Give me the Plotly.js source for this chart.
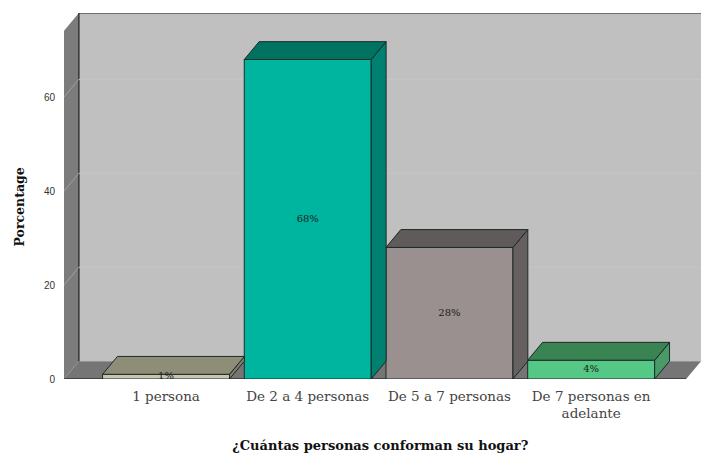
<!DOCTYPE html>
<html>
<head>
<meta charset="utf-8">
<script src="https://cdn.plot.ly/plotly-3.0.1.min.js"></script>
<style>html,body{margin:0;padding:0;background:#fff}</style>
</head>
<body>
<div id="chart" style="width:701px;height:455px"></div>
<script>
// Household size survey: share of respondents per household size.
const categories = ['1 persona', 'De 2 a 4 personas', 'De 5 a 7 personas', 'De 7 personas en<br>adelante'];
const percentages = [1, 68, 28, 4];
const frontColors = ['#C6C6AE', '#00B5A0', '#9A9090', '#55C885'];
const topColors = ['#8E8E78', '#007260', '#605A5A', '#3A8352'];
const sideColors = ['#7F7F6C', '#008070', '#666060', '#4A9A68'];
const yTicks = [0, 20, 40, 60];

// Extruded look: depth of the box, in axis units.
const depthX = 0.105;
const depthY = 3.8;
const halfBar = 0.448;
const xRange = [-0.72, 3.775];
const yRange = [0, 77.9];
const frontRight = xRange[1] - depthX;
const edge = '#1c2a28';
const serif = 'DejaVu Serif, serif';

const polygon = (xs, ys, fill) => ({
  type: 'scatter', mode: 'lines', x: xs, y: ys, fill: 'toself', fillcolor: fill,
  line: {color: edge, width: 1}, hoverinfo: 'skip', showlegend: false
});

const positions = categories.map((_, i) => i);

const bars = {
  type: 'bar', x: positions, y: percentages,
  marker: {color: frontColors, line: {color: edge, width: 1}},
  hoverinfo: 'skip', showlegend: false
};

const tops = positions.map(i => polygon(
  [i - halfBar, i - halfBar + depthX, i + halfBar + depthX, i + halfBar, i - halfBar],
  [percentages[i], percentages[i] + depthY, percentages[i] + depthY, percentages[i], percentages[i]],
  topColors[i]));

const sides = positions.map(i => polygon(
  [i + halfBar, i + halfBar + depthX, i + halfBar + depthX, i + halfBar, i + halfBar],
  [percentages[i], percentages[i] + depthY, depthY, 0, percentages[i]],
  sideColors[i]));

// Value labels sit mid-bar, above the extruded faces.
const valueLabels = {
  type: 'scatter', mode: 'text', x: positions, y: percentages.map(v => v / 2),
  text: percentages.map(v => v + '%'), textposition: 'middle center', cliponaxis: false,
  textfont: {family: serif, size: 10, color: '#1a1a1a'},
  hoverinfo: 'skip', showlegend: false
};

const path = pts => 'M' + pts.map(p => p.join(',')).join('L') + 'Z';
const x0 = xRange[0], x1 = x0 + depthX, yTop = yRange[1];

const shapes = [
  // back wall
  {type: 'path', layer: 'below', path: path([[x1, depthY], [x1, yTop], [xRange[1], yTop], [xRange[1], depthY]]),
   fillcolor: '#C0C0C0', line: {width: 0}},
  {type: 'line', layer: 'below', x0: x1, x1: xRange[1], y0: yTop, y1: yTop, line: {color: '#555', width: 1.5}},
  // floor
  {type: 'path', layer: 'below', path: path([[x0, 0], [x1, depthY], [xRange[1], depthY], [frontRight, 0]]),
   fillcolor: '#757575', line: {width: 0}},
  // left wall
  {type: 'path', layer: 'below', path: path([[x0, 0], [x0, yTop - depthY], [x1, yTop], [x1, depthY]]),
   fillcolor: '#7C7C7C', line: {width: 0}},
  {type: 'line', layer: 'below', x0: x1, x1: x1, y0: depthY, y1: yTop, line: {color: '#333', width: 1.5}},
  {type: 'line', layer: 'below', x0: x0, x1: frontRight, y0: 0, y1: 0, line: {color: '#333', width: 1.5}},
  // gridlines carried across the wall
  ...yTicks.slice(1).flatMap(v => [
    {type: 'line', layer: 'below', x0: x1, x1: xRange[1], y0: v + depthY, y1: v + depthY, line: {color: '#C6C6C6', width: 1}},
    {type: 'line', layer: 'below', x0: x0, x1: x1, y0: v, y1: v + depthY, line: {color: '#A0A0A0', width: 1}}
  ])
];

const layout = {
  width: 701, height: 455,
  margin: {l: 64, r: 0, t: 13, b: 76, pad: 0},
  paper_bgcolor: '#fff', plot_bgcolor: '#fff',
  bargap: 0.104, showlegend: false,
  font: {family: serif, color: '#222'},
  xaxis: {
    range: xRange, tickmode: 'array', tickvals: positions, ticktext: categories,
    showgrid: false, zeroline: false, showline: false, ticks: '', ticklen: 0,
    ticklabelstandoff: 7,
    tickfont: {family: serif, size: 13.5, color: '#444'},
    automargin: false,
    title: {text: '<b>¿Cuántas personas conforman su hogar?\u00A0</b>', standoff: 20,
            font: {family: serif, size: 13, color: '#111'}}
  },
  yaxis: {
    range: yRange, tickmode: 'array', tickvals: yTicks,
    showgrid: false, zeroline: false, showline: false, ticks: 'outside', ticklen: 6, tickcolor: 'rgba(0,0,0,0)',
    tickfont: {family: 'Liberation Sans, sans-serif', size: 10, color: '#333'},
    automargin: false,
    title: {text: '<b>Porcentage\u00A0\u00A0\u00A0\u00A0\u00A0</b>', standoff: 16,
            font: {family: serif, size: 12.5, color: '#111'}}
  },
  shapes: shapes
};

Plotly.newPlot('chart', [bars, ...sides, ...tops, valueLabels], layout, {displayModeBar: false, staticPlot: true});
</script>
</body>
</html>
